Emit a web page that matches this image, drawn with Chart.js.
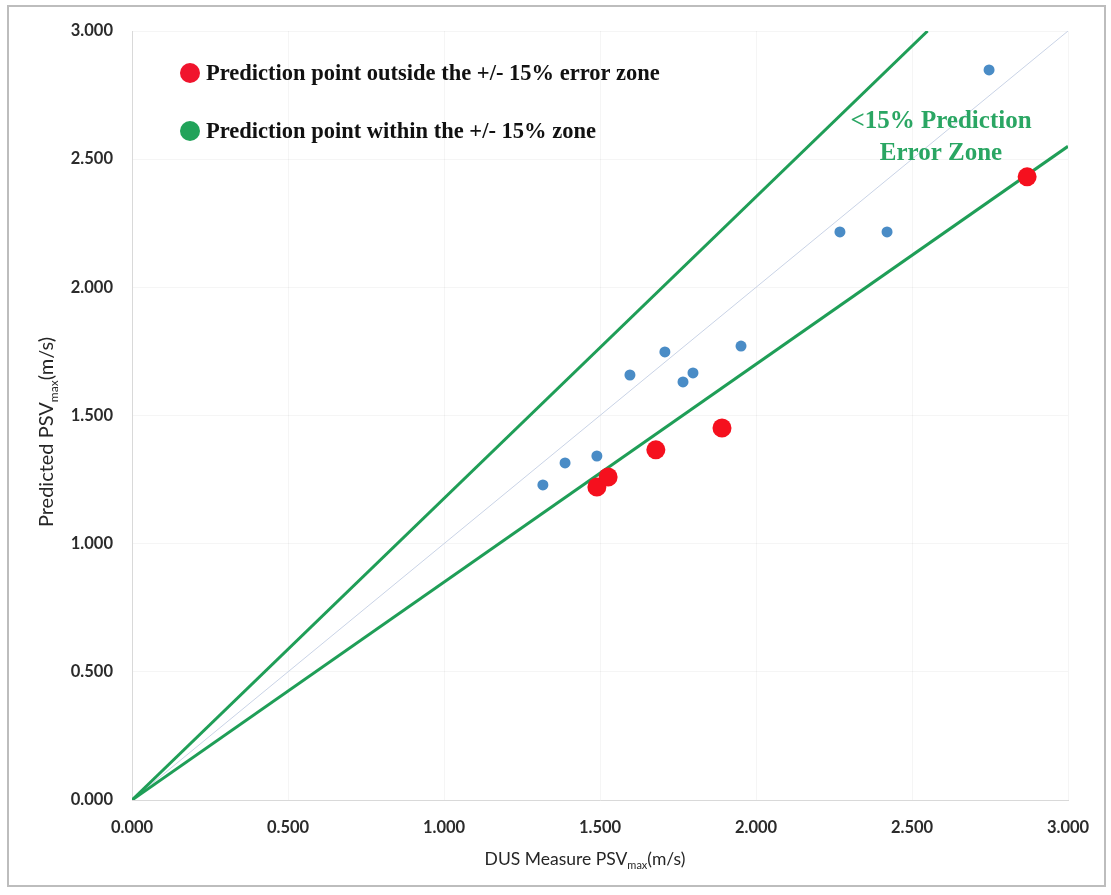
<!DOCTYPE html>
<html><head><meta charset="utf-8">
<script src="https://cdn.jsdelivr.net/npm/chart.js@4/dist/chart.umd.min.js"></script>
<style>html,body{margin:0;padding:0;background:#fff}</style>
</head><body>
<canvas id="c" width="1111" height="895" style="width:1111px;height:895px;display:block"></canvas>
<script>
// ---- data ----
const withinX = [1.317, 1.388, 1.490, 1.596, 1.708, 1.766, 1.798, 1.952, 2.269, 2.420, 2.747];
const withinY = [1.229, 1.315, 1.342, 1.658, 1.748, 1.631, 1.666, 1.771, 2.216, 2.216, 2.848];
const outsideX = [1.490, 1.526, 1.679, 1.891, 2.869];
const outsideY = [1.221, 1.260, 1.366, 1.451, 2.431];
const upperBoundX = [0, 2.55];
const upperBoundY = [0, 3.0];
const lowerBoundX = [0, 3.0];
const lowerBoundY = [0, 2.55];
const identityX = [0, 3.0];
const identityY = [0, 3.0];
const tickValues = [0, 0.5, 1.0, 1.5, 2.0, 2.5, 3.0];
const tickLabels = ["0.000", "0.500", "1.000", "1.500", "2.000", "2.500", "3.000"];
const legendLabels = ["Prediction point outside the +/- 15% error zone", "Prediction point within the +/- 15% zone"];
const zoneLabel = ["<15% Prediction", "Error Zone"];
const xTitle = ["DUS Measure PSV", "max", "(m/s)"];
const yTitle = ["Predicted PSV", "max", "(m/s)"];

const pts = (xs, ys) => xs.map((x, i) => ({x, y: ys[i]}));

const GREEN = '#1f9e57';
const decor = {
  id: 'decor',
  beforeDraw(chart) {
    const ctx = chart.ctx;
    ctx.save();
    ctx.fillStyle = '#fff';
    ctx.fillRect(0, 0, chart.width, chart.height);
    ctx.strokeStyle = '#bdbdbd';
    ctx.lineWidth = 2;
    ctx.strokeRect(8, 6, 1097, 880);
    ctx.restore();
  },
  afterDraw(chart) {
    const ctx = chart.ctx;
    ctx.save();
    // legend
    const rows = [{c: '#f0142d', y: 73}, {c: '#21a35a', y: 131}];
    rows.forEach((r, i) => {
      ctx.fillStyle = r.c;
      ctx.beginPath(); ctx.arc(190, r.y, 10, 0, Math.PI * 2); ctx.fill();
      ctx.fillStyle = '#111';
      ctx.font = "bold 22.5px 'Liberation Serif'";
      ctx.textBaseline = 'middle';
      ctx.textAlign = 'left';
      ctx.fillText(legendLabels[i], 206, r.y + 1);
    });
    // zone label
    ctx.fillStyle = '#2aa663';
    ctx.font = "bold 25px 'Liberation Serif'";
    ctx.textAlign = 'center';
    ctx.fillText(zoneLabel[0], 941, 122);
    ctx.fillText(zoneLabel[1], 941, 154);
    // axis titles with subscript
    const drawSub = (parts, cx, cy, rot, size) => {
      ctx.save();
      ctx.translate(cx, cy);
      if (rot) ctx.rotate(-Math.PI / 2);
      ctx.fillStyle = '#262626';
      ctx.textBaseline = 'middle';
      ctx.textAlign = 'left';
      const big = size + "px Lato", small = Math.round(size * 0.6) + "px Lato";
      ctx.font = big; const w0 = ctx.measureText(parts[0]).width, w2 = ctx.measureText(parts[2]).width;
      ctx.font = small; const w1 = ctx.measureText(parts[1]).width;
      let x = -(w0 + w1 + w2) / 2;
      ctx.font = big; ctx.fillText(parts[0], x, 0); x += w0;
      ctx.font = small; ctx.fillText(parts[1], x, size * 0.35); x += w1;
      ctx.font = big; ctx.fillText(parts[2], x, 0);
      ctx.restore();
    };
    drawSub(xTitle, 585, 859, false, 17.5);
    drawSub(yTitle, 47, 432, true, 20);
    ctx.restore();
  }
};

const tickFont = {family: 'Lato', size: 16.5, weight: 'bold'};
new Chart(document.getElementById('c'), {
  type: 'scatter',
  data: {
    datasets: [
      {data: pts(identityX, identityY), showLine: true, borderColor: '#c9d3e6', borderWidth: 1, pointRadius: 0, order: 5},
      {data: pts(upperBoundX, upperBoundY), showLine: true, borderColor: GREEN, borderWidth: 3, pointRadius: 0, order: 4},
      {data: pts(lowerBoundX, lowerBoundY), showLine: true, borderColor: GREEN, borderWidth: 3, pointRadius: 0, order: 3},
      {data: pts(withinX, withinY), backgroundColor: '#4a8cc6', borderWidth: 0, pointRadius: 5.5, order: 2},
      {data: pts(outsideX, outsideY), backgroundColor: '#f5101e', borderWidth: 0, pointRadius: 9.5, order: 1}
    ]
  },
  options: {
    responsive: false,
    animation: false,
    devicePixelRatio: 1,
    layout: {padding: {left: 0, right: 43, top: 31, bottom: 0}},
    plugins: {legend: {display: false}, tooltip: {enabled: false}},
    scales: {
      x: {
        type: 'linear', min: 0, max: 3,
        afterBuildTicks: s => { s.ticks = tickValues.map(v => ({value: v})); },
        afterFit: s => { s.height = 95; },
        ticks: {callback: (v) => tickLabels[tickValues.indexOf(v)], color: '#2b2b2b', font: tickFont, padding: 18, maxRotation: 0},
        grid: {color: 'rgba(0,0,0,0.04)', drawTicks: false},
        border: {color: '#d9d9d9'}
      },
      y: {
        type: 'linear', min: 0, max: 3,
        afterBuildTicks: s => { s.ticks = tickValues.map(v => ({value: v})); },
        afterFit: s => { s.width = 132; },
        ticks: {callback: (v) => tickLabels[tickValues.indexOf(v)], color: '#2b2b2b', font: tickFont, padding: 19},
        grid: {color: 'rgba(0,0,0,0.04)', drawTicks: false},
        border: {color: '#d9d9d9'}
      }
    }
  },
  plugins: [decor]
});
</script>
</body></html>
